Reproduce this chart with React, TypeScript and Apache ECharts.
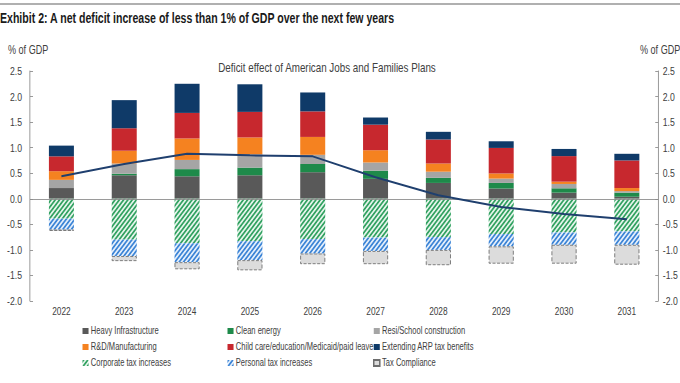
import React, { useEffect, useRef } from "react";
import * as echarts from "echarts";

const years = ["2022", "2023", "2024", "2025", "2026", "2027", "2028", "2029", "2030", "2031"];
const heavyInfra = [0.21, 0.46, 0.44, 0.46, 0.52, 0.39, 0.31, 0.2, 0.12, 0.04];
const cleanEnergy = [0.0, 0.03, 0.14, 0.15, 0.16, 0.16, 0.1, 0.11, 0.085, 0.08];
const resiSchool = [0.16, 0.2, 0.18, 0.26, 0.18, 0.16, 0.12, 0.085, 0.085, 0.03];
const rdManufacturing = [0.17, 0.25, 0.42, 0.33, 0.35, 0.24, 0.16, 0.1, 0.045, 0.06];
const childCare = [0.29, 0.44, 0.5, 0.5, 0.5, 0.5, 0.47, 0.5, 0.5, 0.54];
const extendingARP = [0.21, 0.55, 0.57, 0.54, 0.37, 0.14, 0.15, 0.13, 0.14, 0.13];
const corporateTax = [-0.39, -0.8, -0.87, -0.83, -0.79, -0.76, -0.75, -0.69, -0.66, -0.64];
const personalTax = [-0.21, -0.32, -0.37, -0.37, -0.28, -0.26, -0.25, -0.24, -0.24, -0.26];
const taxCompliance = [-0.03, -0.1, -0.14, -0.2, -0.21, -0.26, -0.3, -0.34, -0.37, -0.39];
const netEffect = [0.44, 0.68, 0.88, 0.85, 0.83, 0.42, 0.07, -0.16, -0.3, -0.4];

const FONT = "'Liberation Sans', Arial, sans-serif";
// The reference is horizontally condensed; the chart is laid out at a wider
// width and squeezed horizontally to 680px.
const OUT_W = 680;
const IN_W = 900;
const S = OUT_W / IN_W;
const X = (px: number) => px / S;

export default function App() {
  const ref = useRef<HTMLDivElement>(null);
  useEffect(() => {
    if (!ref.current) return;
    const chart = echarts.init(ref.current, null, { renderer: "svg" });
    const barW = X(25);
    const solid = (name: string, data: number[], color: string) => ({
      name,
      type: "bar",
      stack: "total",
      barWidth: barW,
      data,
      itemStyle: { color },
    });
    const hatch = (name: string, data: number[], base: string, stripe: string) => ({
      name,
      type: "bar",
      stack: "total",
      barWidth: barW,
      data,
      itemStyle: {
        color: base,
        decal: {
          symbol: "rect",
          symbolSize: 1,
          color: stripe,
          dashArrayX: [1, 0],
          dashArrayY: [2, 2],
          rotation: -Math.PI / 4,
        },
      },
    });
    const legendCommon = {
      orient: "vertical",
      top: 325,
      padding: 0,
      itemWidth: 8,
      itemHeight: 6,
      itemGap: 4,
      icon: "rect",
      textStyle: { fontFamily: FONT, fontSize: 10, color: "#404040", lineHeight: 12, padding: [0, 0, 0, -2] },
    };
    chart.setOption({
      animation: false,
      textStyle: { fontFamily: FONT },
      grid: { left: X(30), right: X(17), top: 71, bottom: 82, containLabel: false },
      graphic: [
        { type: "line", shape: { x1: 0, y1: 4, x2: IN_W, y2: 4 }, style: { stroke: "#b0b0b0", lineWidth: 2 } },
        {
          type: "text",
          x: 0,
          y: 18,
          style: {
            text: "Exhibit 2: A net deficit increase of less than 1% of GDP over the next few years",
            font: "bold 14px " + FONT,
            fill: "#1a1a1a",
            verticalAlign: "middle",
          },
        },
        {
          type: "text",
          x: X(8),
          y: 49,
          style: { text: "% of GDP", font: "12px " + FONT, fill: "#404040", verticalAlign: "middle" },
        },
        {
          type: "text",
          x: X(640),
          y: 49,
          style: { text: "% of GDP", font: "12px " + FONT, fill: "#404040", verticalAlign: "middle" },
        },
        {
          type: "text",
          x: X(327),
          y: 67,
          style: {
            text: "Deficit effect of American Jobs and Families Plans",
            font: "13px " + FONT,
            fill: "#404040",
            align: "center",
            verticalAlign: "middle",
          },
        },
      ],
      legend: [
        { ...legendCommon, left: X(82.5), data: ["Heavy Infrastructure", "R&D/Manufacturing", "Corporate tax increases"] },
        { ...legendCommon, left: X(227.5), data: ["Clean energy", "Child care/education/Medicaid/paid leave", "Personal tax increases"] },
        { ...legendCommon, left: X(373), data: ["Resi/School construction", "Extending ARP tax benefits", "Tax Compliance"] },
      ],
      xAxis: {
        type: "category",
        data: years,
        axisLine: { show: false, onZero: false },
        axisTick: { show: false },
        axisLabel: { fontFamily: FONT, fontSize: 11, color: "#404040", margin: 5 },
      },
      yAxis: [
        {
          type: "value",
          min: -2,
          max: 2.5,
          interval: 0.5,
          position: "left",
          axisLine: { show: true, lineStyle: { color: "#8c8c8c" } },
          axisTick: { show: true, inside: true, length: 4, lineStyle: { color: "#8c8c8c" } },
          splitLine: { show: false },
          axisLabel: { fontFamily: FONT, fontSize: 11.5, color: "#404040", margin: X(8), formatter: (v: number) => v.toFixed(1) },
        },
        {
          type: "value",
          min: -2,
          max: 2.5,
          interval: 0.5,
          position: "right",
          axisLine: { show: true, lineStyle: { color: "#8c8c8c" } },
          axisTick: { show: true, inside: true, length: 4, lineStyle: { color: "#8c8c8c" } },
          splitLine: { show: false },
          axisLabel: { fontFamily: FONT, fontSize: 11.5, color: "#404040", margin: X(4.5), formatter: (v: number) => v.toFixed(1) },
        },
      ],
      series: [
        {
          ...solid("Heavy Infrastructure", heavyInfra, "#595959"),
          markLine: {
            silent: true,
            symbol: "none",
            label: { show: false },
            lineStyle: { color: "#8c8c8c", type: "solid", width: 1 },
            data: [{ yAxis: 0 }],
          },
        },
        solid("Clean energy", cleanEnergy, "#1e8a4a"),
        solid("Resi/School construction", resiSchool, "#a5a5a5"),
        solid("R&D/Manufacturing", rdManufacturing, "#f58220"),
        solid("Child care/education/Medicaid/paid leave", childCare, "#c7282e"),
        solid("Extending ARP tax benefits", extendingARP, "#0f3a68"),
        hatch("Corporate tax increases", corporateTax, "#e4f4ea", "#33a262"),
        hatch("Personal tax increases", personalTax, "#e3eefb", "#3d85d6"),
        {
          name: "Tax Compliance",
          type: "bar",
          stack: "total",
          barWidth: barW,
          data: taxCompliance,
          itemStyle: { color: "#dcdcdc", borderColor: "#6e6e6e", borderWidth: 1, borderType: "dashed" },
        },
        {
          name: "Net deficit effect",
          type: "line",
          data: netEffect,
          symbol: "none",
          lineStyle: { color: "#1f3f6e", width: 2 },
          itemStyle: { color: "#1f3f6e" },
          z: 5,
        },
      ],
    });
    return () => chart.dispose();
  }, []);
  return (
    <div style={{ position: "absolute", left: 0, top: 0, width: OUT_W, height: 383, overflow: "hidden" }}>
      <div
        ref={ref}
        style={{ width: IN_W, height: 383, transform: `scaleX(${S})`, transformOrigin: "0 0" }}
      />
    </div>
  );
}
